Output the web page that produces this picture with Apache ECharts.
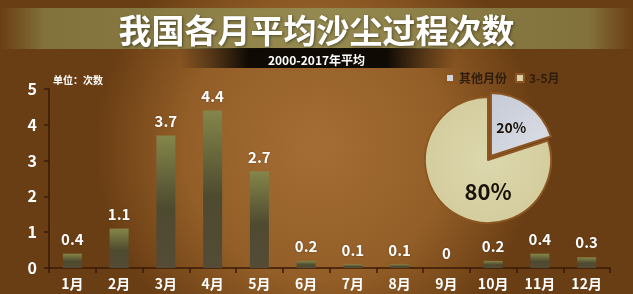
<!DOCTYPE html>
<html>
<head>
<meta charset="utf-8">
<script src="https://cdn.jsdelivr.net/npm/echarts@6/dist/echarts.min.js"></script>
<style>
html,body{margin:0;padding:0;background:#7a4a1c;}
#c{width:633px;height:294px;}
</style>
</head>
<body>
<div id="c"></div>
<script>
var months = ['1月','2月','3月','4月','5月','6月','7月','8月','9月','10月','11月','12月'];
var counts = [0.4, 1.1, 3.7, 4.4, 2.7, 0.2, 0.1, 0.1, 0, 0.2, 0.4, 0.3];
var pieNames = ['其他月份', '3-5月'];
var pieValues = [20, 80];
var yTicks = [0, 1, 2, 3, 4, 5];

var chart = echarts.init(document.getElementById('c'), null, {renderer: 'canvas'});
var G = echarts.graphic;
var font = '"Noto Sans CJK SC", "Noto Sans", sans-serif';

var option = {
  backgroundColor: new G.RadialGradient(0.5, 0.5, 0.75, [
    {offset: 0, color: '#a56d36'},
    {offset: 0.6, color: '#935e27'},
    {offset: 1, color: '#6a3e14'}
  ]),
  textStyle: {fontFamily: font},
  graphic: [
    {type: 'rect', shape: {x: 0, y: 8, width: 633, height: 41}, silent: true,
      style: {fill: new G.LinearGradient(0, 0, 1, 0, [
        {offset: 0, color: 'rgba(140,130,70,0)'},
        {offset: 0.07, color: 'rgba(140,135,75,0.7)'},
        {offset: 0.5, color: 'rgba(148,143,85,0.88)'},
        {offset: 0.93, color: 'rgba(140,135,75,0.7)'},
        {offset: 1, color: 'rgba(140,130,70,0)'}
      ])}},
    {type: 'rect', shape: {x: 180, y: 48, width: 275, height: 20}, silent: true,
      style: {fill: new G.LinearGradient(0, 0, 1, 0, [
        {offset: 0, color: 'rgba(0,0,0,0)'},
        {offset: 0.25, color: 'rgba(0,0,0,0.9)'},
        {offset: 0.75, color: 'rgba(0,0,0,0.9)'},
        {offset: 1, color: 'rgba(0,0,0,0)'}
      ])}}
  ],
  title: [
    {text: '我国各月平均沙尘过程次数', left: 'center', top: 9,
      textStyle: {color: '#ffffff', fontSize: 33, fontWeight: 'bold', fontFamily: font,
        textShadowColor: 'rgba(0,0,0,0.45)', textShadowBlur: 3, textShadowOffsetX: 1, textShadowOffsetY: 1}},
    {text: '2000-2017年平均', left: 'center', top: 49,
      textStyle: {color: '#ffffff', fontSize: 12, fontWeight: 'bold', fontFamily: font}},
    {text: '单位：次数', left: 48, top: 70,
      textStyle: {color: '#ffffff', fontSize: 10, fontWeight: 'bold', fontFamily: font}}
  ],
  legend: {
    data: pieNames, left: 440, top: 67, icon: 'rect', itemWidth: 8, itemHeight: 8, itemGap: 8,
    textStyle: {color: '#2e1c0c', fontSize: 12, fontWeight: 'bold', fontFamily: font}
  },
  grid: {left: 49, right: 23, top: 89, bottom: 26, containLabel: false},
  xAxis: {
    type: 'category', data: months, boundaryGap: true,
    axisLine: {lineStyle: {color: '#3a1a06', width: 1.5}},
    axisTick: {show: true, length: 5, inside: false, lineStyle: {color: '#3a1a06', width: 1.5}},
    axisLabel: {color: '#ffffff', fontSize: 14, fontWeight: 'bold', margin: 9, fontFamily: font},
    splitLine: {show: false}
  },
  yAxis: {
    type: 'value', min: yTicks[0], max: yTicks[yTicks.length - 1], interval: 1,
    axisLine: {show: true, lineStyle: {color: '#3a1a06', width: 1.5}},
    axisTick: {show: true, length: 5, lineStyle: {color: '#3a1a06', width: 1.5}},
    axisLabel: {color: '#ffffff', fontSize: 16, fontWeight: 'bold', margin: 12, fontFamily: font},
    splitLine: {show: false}
  },
  series: [
    {
      type: 'bar', data: counts, barWidth: 19,
      itemStyle: {color: new G.LinearGradient(0, 0, 0, 1, [
        {offset: 0, color: '#85864b'},
        {offset: 0.1, color: '#7a7b44'},
        {offset: 0.55, color: '#4e4a30'},
        {offset: 1, color: '#544c36'}
      ])},
      label: {show: true, position: 'top', distance: 7, color: '#ffffff', fontSize: 15,
        fontWeight: 'bold', fontFamily: font,
        textShadowColor: 'rgba(0,0,0,0.3)', textShadowBlur: 2}
    },
    {
      type: 'pie', center: [488, 160], radius: 63, startAngle: 90, clockwise: true,
      selectedMode: 'single', selectedOffset: 5,
      data: [
        {name: pieNames[0], value: pieValues[0], selected: true,
          itemStyle: {color: new G.LinearGradient(0, 0, 1, 1, [
            {offset: 0, color: '#c6cad6'}, {offset: 1, color: '#dcdfe6'}])},
          label: {fontSize: 14}},
        {name: pieNames[1], value: pieValues[1],
          itemStyle: {color: new G.RadialGradient(0.5, 0.5, 0.6, [
            {offset: 0, color: '#dcd7ad'}, {offset: 1, color: '#d2cb9b'}])},
          label: {fontSize: 22}}
      ],
      itemStyle: {borderColor: '#8c5622', borderWidth: 2},
      label: {show: true, position: 'inside', color: '#1a1208', fontWeight: 'bold', fontFamily: font,
        formatter: '{c}%'},
      labelLine: {show: false},
      emphasis: {disabled: true},
      labelLayout: function (p) {
        if (p.dataIndex === 1) {
          return {x: 488, y: 192, align: 'center', verticalAlign: 'middle'};
        }
        return {x: 520, y: 139, align: 'center', verticalAlign: 'middle'};
      }
    }
  ]
};
chart.setOption(option);
</script>
</body>
</html>
